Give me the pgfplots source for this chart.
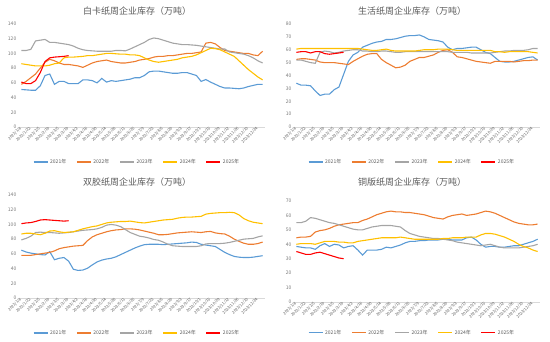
\documentclass[border=0pt]{standalone}
\usepackage{fontspec}
\setmainfont{Noto Sans CJK SC}
\usepackage{pgfplots}
\usepackage{pgfplotstable}
\pgfplotsset{compat=1.18}
\definecolor{cA}{HTML}{5B9BD5}
\definecolor{cB}{HTML}{ED7D31}
\definecolor{cC}{HTML}{A5A5A5}
\definecolor{cD}{HTML}{FFC000}
\definecolor{cE}{HTML}{FF0000}
\definecolor{txt}{HTML}{595959}

\pgfplotstableread{
x a b c d e
0 51 58 104 86 61
1 50.5 62 104 85 59
2 50 67 105.5 84 59
3 50 72 117 83 63
4 56 80 118 83 74
5 70 88 119 83 89
6 72 92 115 84 94
7 58 90 115 86 95
8 62 87 114 87 95.5
9 62 85 113 94 96
10 59 85 112 95 97
11 59 84 110 95 nan
12 59 83 107 95.5 nan
13 64 81 105 96 nan
14 64 84 104 97 nan
15 63 87 103.5 97 nan
16 60 89 103 98 nan
17 66 90 103 99 nan
18 61 91 103 100 nan
19 63 89 103 100 nan
20 62 88 104 99.5 nan
21 63 87 104 99 nan
22 64 87 103.5 99 nan
23 65 88 106 98 nan
24 67 89 109 98 nan
25 67 91 112 97 nan
26 70 92 115 94 nan
27 75 93 119 91 nan
28 76 95 121 89 nan
29 76 96 120 88 nan
30 75 96 118 89 nan
31 74 97 116 90 nan
32 73 97 114 91 nan
33 73 98 113 92 nan
34 74 99 112 94 nan
35 74 100 112 95 nan
36 72 100 111.5 96 nan
37 70 101 111 98 nan
38 62 102 110 101 nan
39 64.5 114 109 104 nan
40 61 115 108 107 nan
41 58 113 107 106.5 nan
42 55 108 106 105 nan
43 53 104 106 102 nan
44 53 103 102 99 nan
45 52.5 102 101 96 nan
46 52 101 100 90 nan
47 53 100 99 84 nan
48 55 100 97 78 nan
49 56.5 98 94 73 nan
50 58 97 90 68 nan
51 58 103 87 64 nan
}\tA

\pgfplotstableread{
x a b c d e
0 34 52.5 52 60.5 58
1 32.5 53 52 61 58.5
2 32.5 53 51 61 58.5
3 32 52.5 50 61 57.5
4 28 52 49.5 61 58.5
5 24.5 50.5 58 61 58.5
6 25.5 50 59 61 57
7 25.5 50 58.5 61 56.5
8 29 50 57.5 61 57
9 31 49.5 58 61 57.5
10 41 49 59 61 58
11 51 48.5 59.5 61 nan
12 56 51 60 61 nan
13 58 53 60 61 nan
14 62 55 59 60.5 nan
15 63.5 56.5 59 60 nan
16 65 57 58.5 59.5 nan
17 66 57 58.5 59.5 nan
18 66.5 52.5 59 60 nan
19 68 50 59 60.5 nan
20 68 48 58.5 59.5 nan
21 68.5 46 58 59 nan
22 69.5 46.5 58 59 nan
23 70.5 48 58.5 59 nan
24 71 51 58.5 59 nan
25 71 52.5 58.5 59 nan
26 71.5 54 58.5 59.5 nan
27 70 54 58.5 60 nan
28 68 55 58.5 60 nan
29 67.5 56 58.5 60 nan
30 67 58 58.5 60.5 nan
31 66 59.5 58.5 60.5 nan
32 62 60 58.5 60.5 nan
33 60 58 58 60 nan
34 61 54.5 58 59.5 nan
35 61 54 58 59.5 nan
36 61.5 53 58 59.5 nan
37 62 52 57.5 59.5 nan
38 62 51 57.5 59.5 nan
39 60 50.5 57.5 59.5 nan
40 58 50 57.5 59.5 nan
41 57 49.5 57.5 59.5 nan
42 54 51 58 58.5 nan
43 51 51 58.5 58.5 nan
44 50.5 51 59 58 nan
45 50.5 51 59 58.5 nan
46 51 50.5 59.5 58.5 nan
47 52 51 59.5 58.5 nan
48 53 51.5 59.5 58.5 nan
49 54 51.5 60 58.5 nan
50 54.5 52 61 58 nan
51 52 52 61 57.5 nan
}\tB

\pgfplotstableread{
x a b c d e
0 65 58 79 87 101
1 62.5 58 81 88 102
2 61 58 84 88 102.5
3 60 59 89 87 104
4 59 60 89.5 86 106
5 58.5 61 89 88 106.5
6 63 62 89 91 106
7 52 64 88.5 91.5 105.5
8 54 67 88 90 105
9 55 68.5 88.5 89 104.5
10 50 69.5 89 89.5 105
11 39 70.5 90 90 nan
12 37.5 71 91 92 nan
13 38 71.5 92 94 nan
14 40.5 78 92.5 95.5 nan
15 45 83 93 97 nan
16 49 86 94 98 nan
17 51.5 88 96 100 nan
18 53 90 99 102 nan
19 54 91.5 100 103 nan
20 56 92.5 99 103.5 nan
21 59 93 97 104 nan
22 62 94 93 104 nan
23 65 94 89 104.5 nan
24 68 93.5 86.5 103.5 nan
25 70.5 92.5 84 102.5 nan
26 72.5 91 83 102 nan
27 73 89.5 81.5 103 nan
28 73 88 79.5 104 nan
29 73 86 78.5 105 nan
30 72.5 86 76 106 nan
31 73 86.5 73 106.5 nan
32 73.5 87.5 71 107 nan
33 74 88.5 70.5 108.5 nan
34 74.5 89 70 109.5 nan
35 75 89.5 70 110 nan
36 76 90 70 110 nan
37 75.5 89.5 70 110.5 nan
38 73 89 71 111 nan
39 72 90 73.5 114 nan
40 71 90.5 74 115 nan
41 70 88.5 74 115.5 nan
42 66 87.5 74 116 nan
43 62 87 74.5 116 nan
44 59 84 75.5 116.5 nan
45 56.5 80 77 116 nan
46 55.5 77 78.5 113 nan
47 55 74.5 80 108 nan
48 55 73 80.5 105 nan
49 55.5 73 81 103 nan
50 56.5 74 83 102 nan
51 57.5 76 84.5 101 nan
}\tC

\pgfplotstableread{
x a b c d e
0 38.5 44.5 55 40 35
1 38 45 55 40.5 34
2 37.5 45 56 40.5 33
3 37.5 45.5 58.5 40.5 33
4 36.5 48.5 58 40 34
5 39 49.5 57 41 34.5
6 40.5 50 56 42 33.5
7 38.5 51 55 42 32.5
8 40 52.5 54.5 42 31.5
9 39.5 53.5 53.5 41.5 30.5
10 37.5 54 52.5 41.5 30
11 38.5 54.5 51.5 41 nan
12 39 55 50.5 41 nan
13 36 55 50 42 nan
14 32.5 56.5 50 42.5 nan
15 36 57.5 51 43 nan
16 36 59 52 43.5 nan
17 36 60.5 52.5 44 nan
18 36.5 61.5 53 44.5 nan
19 38 62.5 53 44.5 nan
20 37.5 63 53 44.5 nan
21 38.5 62.5 52.5 44.5 nan
22 39.5 62.5 52 45 nan
23 41 62 49.5 44.5 nan
24 42 62 47.5 44 nan
25 42 61.5 46.5 43.5 nan
26 42.5 61 45.5 43.5 nan
27 42.5 60.5 45 43.5 nan
28 43 59.5 44.5 43.5 nan
29 43 58.5 44 43.5 nan
30 43 58 44 43.5 nan
31 43.5 57.5 43.5 44 nan
32 43.5 59 43 44 nan
33 43 60 42.5 44.5 nan
34 43 60.5 41.5 44.5 nan
35 43 61 41 44.5 nan
36 44.5 60 40.5 45 nan
37 45 60.5 40 45 nan
38 43 61 39.5 45 nan
39 40 62 39 46.5 nan
40 38 63 39.5 47.5 nan
41 38.5 62.5 40 47.5 nan
42 38.5 61.5 39 47 nan
43 38 60 38 46 nan
44 38 58.5 37.5 45 nan
45 38.5 57 37.5 43.5 nan
46 39 55.5 37.5 42 nan
47 39 54.5 37.5 40 nan
48 40 54 38 38.5 nan
49 41 53.5 38.5 37.5 nan
50 42 53.5 39 36 nan
51 43.5 54 40 35 nan
}\tD

\pgfplotsset{
  panel/.style={
    scale only axis, width=246pt,
    xmin=-0.5, xmax=51.5, ymin=0,
    axis lines*=left,
    x axis line style={draw=black!15, line width=0.5pt},
    y axis line style={draw=none},
    tick style={draw=none},
    /pgf/number format/assume math mode=true,
    xtick={0,2,...,50},
    xticklabels={2023/1/8,2023/1/22,2023/2/5,2023/2/19,2023/3/5,2023/3/19,2023/4/2,2023/4/16,2023/4/30,2023/5/14,2023/5/28,2023/6/11,2023/6/25,2023/7/9,2023/7/23,2023/8/6,2023/8/20,2023/9/3,2023/9/17,2023/10/1,2023/10/15,2023/10/29,2023/11/12,2023/11/26,2023/12/10,2023/12/24},
    x tick label style={rotate=45, anchor=east, font=\fontsize{4}{5}\selectfont, text=txt, inner sep=1pt},
    y tick label style={font=\fontsize{5}{6}\selectfont, text=txt!80, inner sep=2.5pt},
    title style={font=\fontsize{9}{10}\selectfont, text=txt, at={(0.48,1)}, anchor=center},
    legend columns=5,
    legend style={draw=none, fill=none, font=\fontsize{5}{6}\selectfont, text=txt, anchor=center,
      /tikz/every even column/.append style={column sep=8pt}},
    legend image code/.code={\draw[#1, line width=1.1pt] (0pt,0pt) -- (14pt,0pt);},
    every axis plot/.append style={line width=1.1pt, mark=none},
  }
}

\begin{document}
\begin{tikzpicture}
\path[use as bounding box] (0,0) rectangle (550pt,342pt);
% panel 1
\begin{axis}[panel, at={(19pt,215pt)}, anchor=south west, height=103pt, ymax=140, ytick={0,20,...,140},
  title={白卡纸周企业库存（万吨）}, title style={yshift=7pt},
  legend style={at={(0.48,-0.34)}}]
\addplot[cA] table[x=x,y=a]{\tA};
\addplot[cB] table[x=x,y=b]{\tA};
\addplot[cC] table[x=x,y=c]{\tA};
\addplot[cD] table[x=x,y=d]{\tA};
\addplot[cE] table[x=x,y=e]{\tA};
\legend{2021年,2022年,2023年,2024年,2025年}
\end{axis}
% panel 2
\begin{axis}[panel, at={(294pt,215pt)}, anchor=south west, height=103pt, ymax=80, ytick={0,10,...,80},
  title={生活纸周企业库存（万吨）}, title style={yshift=7pt},
  legend style={at={(0.48,-0.34)}}]
\addplot[cA] table[x=x,y=a]{\tB};
\addplot[cB] table[x=x,y=b]{\tB};
\addplot[cC] table[x=x,y=c]{\tB};
\addplot[cD] table[x=x,y=d]{\tB};
\addplot[cE] table[x=x,y=e]{\tB};
\legend{2021年,2022年,2023年,2024年,2025年}
\end{axis}
% panel 3
\begin{axis}[panel, at={(19pt,44pt)}, anchor=south west, height=103pt, ymax=140, ytick={0,20,...,140},
  title={双胶纸周企业库存（万吨）}, title style={yshift=7pt},
  legend style={at={(0.48,-0.34)}}]
\addplot[cA] table[x=x,y=a]{\tC};
\addplot[cB] table[x=x,y=b]{\tC};
\addplot[cC] table[x=x,y=c]{\tC};
\addplot[cD] table[x=x,y=d]{\tC};
\addplot[cE] table[x=x,y=e]{\tC};
\legend{2021年,2022年,2023年,2024年,2025年}
\end{axis}
% panel 4
\begin{axis}[panel, at={(294pt,40pt)}, anchor=south west, height=101pt, ymax=70, ytick={0,10,...,70},
  title={铜版纸周企业库存（万吨）}, title style={yshift=13pt},
  legend style={at={(0.48,-0.306)}}]
\addplot[cA] table[x=x,y=a]{\tD};
\addplot[cB] table[x=x,y=b]{\tD};
\addplot[cC] table[x=x,y=c]{\tD};
\addplot[cD] table[x=x,y=d]{\tD};
\addplot[cE] table[x=x,y=e]{\tD};
\legend{2021年,2022年,2023年,2024年,2025年}
\end{axis}
\end{tikzpicture}
\end{document}
